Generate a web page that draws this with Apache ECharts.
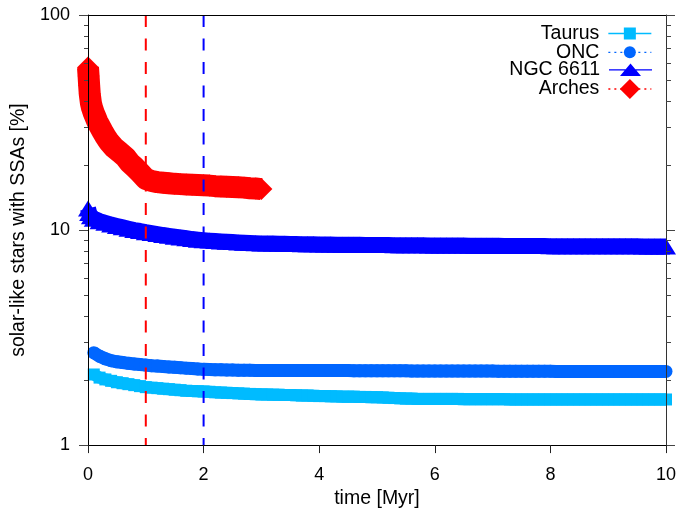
<!DOCTYPE html>
<html>
<head>
<meta charset="utf-8">
<script src="https://cdn.jsdelivr.net/npm/echarts@6/dist/echarts.min.js"></script>
<style>
  html, body { margin: 0; padding: 0; background: #ffffff; }
  #chart { width: 679px; height: 514px; }
</style>
</head>
<body>
<div id="chart"></div>
<script>
// Time grid (Myr) shared by the Taurus, ONC and NGC 6611 runs
const gridTime = [
  0.1, 0.2, 0.3, 0.4, 0.5, 0.6, 0.7, 0.8, 0.9, 1.0,
  1.1, 1.2, 1.3, 1.4, 1.5, 1.6, 1.7, 1.8, 1.9, 2.0,
  2.1, 2.2, 2.3, 2.4, 2.5, 2.6, 2.7, 2.8, 2.9, 3.0,
  3.1, 3.2, 3.3, 3.4, 3.5, 3.6, 3.7, 3.8, 3.9, 4.0,
  4.1, 4.2, 4.3, 4.4, 4.5, 4.6, 4.7, 4.8, 4.9, 5.0,
  5.1, 5.2, 5.3, 5.4, 5.5, 5.6, 5.7, 5.8, 5.9, 6.0,
  6.1, 6.2, 6.3, 6.4, 6.5, 6.6, 6.7, 6.8, 6.9, 7.0,
  7.1, 7.2, 7.3, 7.4, 7.5, 7.6, 7.7, 7.8, 7.9, 8.0,
  8.1, 8.2, 8.3, 8.4, 8.5, 8.6, 8.7, 8.8, 8.9, 9.0,
  9.1, 9.2, 9.3, 9.4, 9.5, 9.6, 9.7, 9.8, 9.9, 10.0
];

// Taurus: solar-like stars with SSAs [%]
const taurusValue = [
  2.13, 2.06, 2.02, 1.99, 1.96, 1.94, 1.92, 1.90, 1.88, 1.86,
  1.85, 1.84, 1.83, 1.82, 1.81, 1.80, 1.79, 1.785, 1.78, 1.775,
  1.77, 1.76, 1.755, 1.75, 1.745, 1.74, 1.735, 1.73, 1.725, 1.72,
  1.72, 1.715, 1.715, 1.71, 1.71, 1.705, 1.70, 1.70, 1.695, 1.69,
  1.69, 1.685, 1.685, 1.68, 1.68, 1.68, 1.675, 1.675, 1.67, 1.67,
  1.665, 1.66, 1.655, 1.65, 1.645, 1.645, 1.64, 1.64, 1.64, 1.64,
  1.64, 1.64, 1.64, 1.64, 1.635, 1.635, 1.635, 1.635, 1.635, 1.635,
  1.635, 1.635, 1.63, 1.63, 1.63, 1.63, 1.63, 1.63, 1.63, 1.63,
  1.63, 1.63, 1.63, 1.63, 1.63, 1.63, 1.63, 1.63, 1.63, 1.63,
  1.63, 1.63, 1.63, 1.63, 1.63, 1.63, 1.63, 1.63, 1.63, 1.63
];

// ONC
const oncValue = [
  2.69, 2.59, 2.52, 2.47, 2.44, 2.42, 2.40, 2.385, 2.37, 2.355,
  2.34, 2.33, 2.32, 2.31, 2.30, 2.29, 2.28, 2.27, 2.26, 2.25,
  2.245, 2.24, 2.24, 2.235, 2.235, 2.23, 2.23, 2.23, 2.225, 2.225,
  2.225, 2.22, 2.22, 2.22, 2.22, 2.22, 2.22, 2.22, 2.22, 2.22,
  2.22, 2.22, 2.22, 2.22, 2.22, 2.215, 2.215, 2.215, 2.215, 2.215,
  2.215, 2.215, 2.215, 2.215, 2.215, 2.21, 2.21, 2.21, 2.21, 2.21,
  2.21, 2.21, 2.21, 2.21, 2.21, 2.21, 2.21, 2.21, 2.21, 2.21,
  2.205, 2.205, 2.205, 2.205, 2.205, 2.205, 2.205, 2.205, 2.205, 2.205,
  2.20, 2.20, 2.20, 2.20, 2.20, 2.20, 2.20, 2.20, 2.20, 2.20,
  2.20, 2.20, 2.20, 2.20, 2.20, 2.20, 2.20, 2.20, 2.20, 2.20
];

// NGC 6611: a few early outputs before the regular grid
const ngcEarlyTime = [0, 0.02, 0.05];
const ngcEarlyValue = [12.6, 12.0, 11.6];
const ngcValue = [
  11.3, 11.0, 10.8, 10.6, 10.45, 10.3, 10.15, 10.0, 9.9, 9.78,
  9.68, 9.58, 9.48, 9.40, 9.32, 9.24, 9.16, 9.08, 9.02, 8.97,
  8.93, 8.89, 8.85, 8.82, 8.79, 8.76, 8.73, 8.71, 8.69, 8.67,
  8.66, 8.65, 8.64, 8.63, 8.62, 8.61, 8.60, 8.59, 8.58, 8.57,
  8.565, 8.56, 8.555, 8.55, 8.545, 8.54, 8.535, 8.53, 8.525, 8.52,
  8.515, 8.51, 8.505, 8.50, 8.50, 8.495, 8.49, 8.49, 8.485, 8.48,
  8.48, 8.475, 8.47, 8.47, 8.465, 8.46, 8.46, 8.455, 8.45, 8.45,
  8.445, 8.44, 8.44, 8.435, 8.43, 8.43, 8.425, 8.42, 8.42, 8.415,
  8.41, 8.41, 8.41, 8.41, 8.41, 8.405, 8.405, 8.405, 8.405, 8.405,
  8.40, 8.40, 8.40, 8.40, 8.40, 8.39, 8.39, 8.39, 8.39, 8.39
];

// Arches (run stops at 3 Myr)
const archesTime = [
  0, 0.01, 0.02, 0.03, 0.05, 0.07, 0.1, 0.13, 0.16, 0.2,
  0.25, 0.3, 0.36, 0.45, 0.55, 0.65, 0.72, 0.8, 0.9, 1.0,
  1.1, 1.2, 1.3, 1.4, 1.5, 1.6, 1.7, 1.8, 1.9, 2.0,
  2.1, 2.2, 2.3, 2.4, 2.5, 2.6, 2.7, 2.8, 2.9, 3.0
];
const archesValue = [
  57, 52, 47, 43, 39, 37, 35, 33.5, 32, 30.5,
  28.8, 27.3, 25.8, 24.2, 23.0, 21.8, 20.6, 19.7, 18.5, 17.3,
  16.9, 16.7, 16.6, 16.5, 16.4, 16.35, 16.3, 16.25, 16.2, 16.15,
  16.1, 16.0, 15.95, 15.9, 15.85, 15.8, 15.75, 15.65, 15.6, 15.5
];

// Vertical reference times (Myr)
const redGuideTime = 1;
const blueGuideTime = 2;

// Log-axis minor tick positions
const minorTickValues = [2, 3, 4, 5, 6, 7, 8, 9, 20, 30, 40, 50, 60, 70, 80, 90];

const FONT = "'Liberation Sans', Arial, Helvetica, sans-serif";
const TRIANGLE = 'path://M0,12L10.5,0L21,12Z';
// legend key for NGC 6611: sample line with a flat triangle on it
const TRIANGLE_KEY = 'path://M0,5.6h43v1.4h-43zM11,12.5L21.5,0L32,12.5Z';

function pairs(times, values) {
  return times.map((t, i) => [t, values[i]]);
}

function legendRow(name, top, itemHeight, lineType, icon) {
  return {
    data: [icon ? { name: name, icon: icon } : name],
    orient: 'vertical',
    align: 'right',
    right: 27,
    top: top,
    padding: 0,
    itemGap: 0,
    itemWidth: 43,
    itemHeight: itemHeight,
    symbolKeepAspect: true,
    selectedMode: false,
    lineStyle: { width: 1.3, type: lineType },
    textStyle: { fontFamily: FONT, fontSize: 19.5, color: '#000', padding: [0, 4, 0, 0] }
  };
}

function guide(time, color) {
  return {
    type: 'line',
    name: 'guide-' + time,
    data: [[time, 100], [time, 1]],
    symbol: 'none',
    silent: true,
    clip: false,
    z: 4,
    lineStyle: { color: color, width: 2, type: [12, 11.5] }
  };
}

// Each run is drawn as a thick band: a wide line under densely placed symbols
function band(name, data, color, symbol, symbolSize, width) {
  return {
    type: 'line', name: name, data: data,
    symbol: symbol, symbolSize: symbolSize, symbolKeepAspect: false,
    showAllSymbol: true, clip: false, z: 2,
    itemStyle: { color: color, borderWidth: 0 },
    lineStyle: { color: color, width: width, type: 'solid', join: 'round', cap: 'butt' }
  };
}

const chart = echarts.init(document.getElementById('chart'), null, { renderer: 'canvas' });

chart.setOption({
  animation: false,
  backgroundColor: '#ffffff',
  grid: { left: 88, right: 10, top: 15, bottom: 67 },
  legend: [
    legendRow('Taurus', 23.5, 15, 'solid'),
    legendRow('ONC', 42.3, 15, [2, 4]),
    legendRow('NGC 6611', 59.8, 12.5, 'solid', TRIANGLE_KEY),
    legendRow('Arches', 79, 25, [2, 4])
  ],
  xAxis: [
    {
      type: 'value', min: 0, max: 10, interval: 2, position: 'bottom', z: 5,
      axisLine: { show: true, onZero: false, lineStyle: { color: '#000', width: 1 } },
      axisTick: { show: true, inside: false, length: 8, lineStyle: { color: '#222' } },
      axisLabel: { margin: 21, fontSize: 18, color: '#000', fontFamily: FONT },
      splitLine: { show: false },
      name: 'time [Myr]', nameLocation: 'middle', nameGap: 42,
      nameTextStyle: { fontSize: 19.5, color: '#000', fontFamily: FONT }
    },
    {
      type: 'value', min: 0, max: 10, interval: 2, position: 'top', z: 5,
      axisLine: { show: true, onZero: false, lineStyle: { color: '#000', width: 1 } },
      axisTick: { show: false }, axisLabel: { show: false }, splitLine: { show: false }
    }
  ],
  yAxis: [
    {
      type: 'log', logBase: 10, min: 1, max: 100, position: 'left', z: 5,
      axisLine: { show: true, onZero: false, lineStyle: { color: '#000', width: 1 } },
      axisTick: { show: true, inside: false, length: 9, lineStyle: { color: '#444' } },
      axisLabel: { margin: 18, fontSize: 18, color: '#000', fontFamily: FONT },
      splitLine: { show: false },
      name: 'solar-like stars with SSAs [%]', nameLocation: 'middle', nameGap: 50,
      nameTextStyle: { fontSize: 19.5, color: '#000', fontFamily: FONT }
    },
    {
      type: 'log', logBase: 10, min: 1, max: 100, position: 'right', z: 5,
      axisLine: { show: true, onZero: false, lineStyle: { color: '#333', width: 1 } },
      axisTick: { show: true, inside: false, length: 9, lineStyle: { color: '#444' } },
      axisLabel: { show: false }, splitLine: { show: false }
    }
  ],
  series: [
    band('Taurus', pairs(gridTime, taurusValue), '#00bbff', 'rect', 12, 12),
    band('ONC', pairs(gridTime, oncValue), '#0066ff', 'circle', 13, 13),
    band('NGC 6611', pairs(ngcEarlyTime.concat(gridTime), ngcEarlyValue.concat(ngcValue)),
      '#0000ff', TRIANGLE, [20, 16], 16),
    band('Arches', pairs(archesTime, archesValue), '#ff0000', 'diamond', 22, 22),
    guide(redGuideTime, '#ff0000'),
    guide(blueGuideTime, '#0000ff'),
    {
      type: 'custom', name: 'minor-ticks', xAxisIndex: 0, yAxisIndex: 0,
      clip: false, silent: true, z: 6,
      data: minorTickValues.map(v => [0, v]),
      encode: { x: 0, y: 1 },
      renderItem: function (params, api) {
        const v = api.value(1);
        const l = api.coord([0, v]);
        const r = api.coord([10, v]);
        const yl = Math.round(l[1]) + 0.5;
        const yr = Math.round(r[1]) + 0.5;
        return {
          type: 'group',
          children: [
            { type: 'line', shape: { x1: l[0] - 4, y1: yl, x2: l[0], y2: yl }, style: { stroke: '#444', lineWidth: 1 } },
            { type: 'line', shape: { x1: r[0], y1: yr, x2: r[0] + 5, y2: yr }, style: { stroke: '#444', lineWidth: 1 } }
          ]
        };
      }
    }
  ]
});
</script>
</body>
</html>
